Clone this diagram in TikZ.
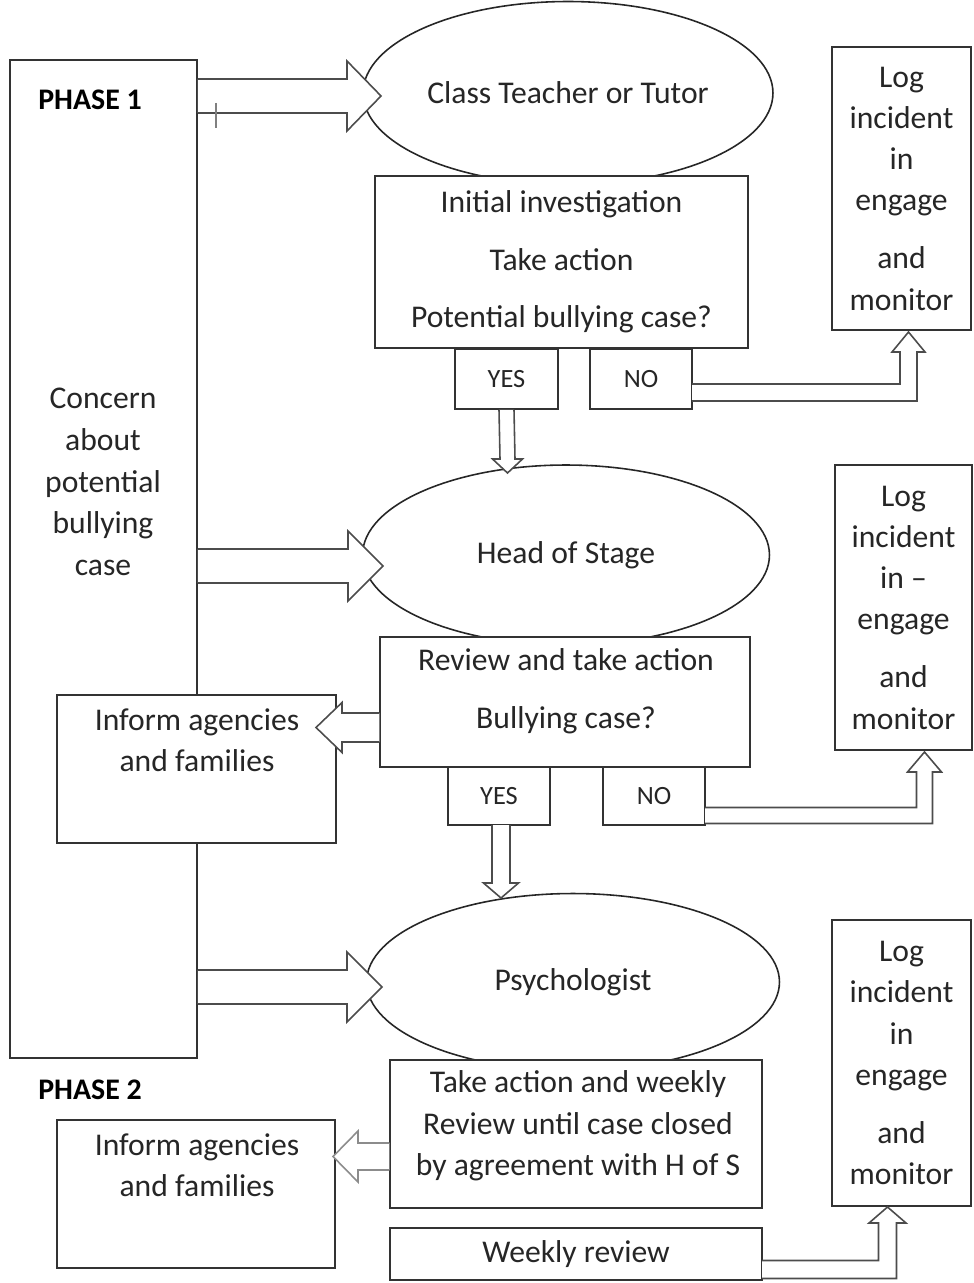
\documentclass[tikz,border=0pt]{standalone}
\usepackage{fontspec}
\setmainfont{Carlito}
\usetikzlibrary{shapes.geometric,calc}
% horizontal block arrow: start, tip, shaft half, head half, head-base offset
\newcommand\hblock[6][]{\draw[barrow,#1] ($(#2)+(0,-#4)$) -- ($(#3)+(#6,-#4)$) -- ($(#3)+(#6,-#5)$) -- (#3) -- ($(#3)+(#6,#5)$) -- ($(#3)+(#6,#4)$) -- ($(#2)+(0,#4)$);}
% vertical block arrow
\newcommand\vblock[6][]{\draw[barrow,#1] ($(#2)+(-#4,0)$) -- ($(#3)+(-#4,#6)$) -- ($(#3)+(-#5,#6)$) -- (#3) -- ($(#3)+(#5,#6)$) -- ($(#3)+(#4,#6)$) -- ($(#2)+(#4,0)$);}
% bent block arrow: right then up
\newcommand\bblock[6][]{\draw[barrow,#1] ($(#2)+(0,-#4)$) -- ($(#3 |- #2)+(-#4,-#4)$) -- ($(#3)+(-#4,#6)$) -- ($(#3)+(-#5,#6)$) -- (#3) -- ($(#3)+(#5,#6)$) -- ($(#3)+(#4,#6)$) -- ($(#3 |- #2)+(#4,#4)$) -- ($(#2)+(0,#4)$);}
\begin{document}
\begin{tikzpicture}[x=0.02cm,y=-0.02cm,
  line join=miter,
  font=\fontsize{18}{23.5}\selectfont,
  box/.style={rectangle, draw=black!80, line width=0.9pt, fill=white, inner sep=0pt, align=center, text=black!85},
  ell/.style={ellipse, draw=black!85, line width=0.9pt, fill=white, inner sep=0pt, align=center, text=black!85},
  barrow/.style={draw=black!70, line width=0.9pt, fill=white},
  txt/.style={align=center, inner sep=0pt, text=black!85},
  yn/.style={box, font=\fontsize{15}{18}\selectfont},
  phase/.style={txt, font=\bfseries\fontsize{17}{20}\selectfont, text=black}]
\useasboundingbox (0,0) rectangle (973,1283);

% left column
\node[box, minimum width=3.74cm, minimum height=19.96cm] (big) at (103.5,559) {};
\node[txt, font=\fontsize{18}{23.8}\selectfont] (concern) at (103,482) {Concern\\about\\potential\\bullying\\case};
\node[phase] (ph1) at (90,100) {PHASE 1};
\node[phase] (ph2) at (90,1090) {PHASE 2};

% ellipses
\node[ell, minimum width=8.2cm, minimum height=3.66cm] (cls) at (568,93) {Class Teacher or Tutor};
\node[ell, minimum width=8.14cm, minimum height=3.6cm] (hos) at (566,555) {Head of Stage};
\node[ell, minimum width=8.26cm, minimum height=3.54cm] (psy) at (573,982) {Psychologist};

% phase 1 boxes
\node[box, minimum width=7.46cm, minimum height=3.44cm, font=\fontsize{18}{32.6}\selectfont] (ini) at (561.5,262) {Initial investigation\\Take action\\Potential bullying case?};
\node[yn, minimum width=2.06cm, minimum height=1.2cm] (yes1) at (506.5,379) {YES};
\node[yn, minimum width=2.04cm, minimum height=1.2cm] (no1) at (641,379) {NO};
\node[box, minimum width=2.78cm, minimum height=5.66cm] (log1) at (901.5,188.5) {Log\\incident\\in\\engage\\[9.4pt]and\\monitor};

% head of stage boxes
\node[box, minimum width=7.4cm, minimum height=2.6cm] (rev) at (565,702) {};
\node[txt, font=\fontsize{18}{32.9}\selectfont] (revt) at (566,691) {Review and take action\\Bullying case?};
\node[box, minimum width=5.58cm, minimum height=2.96cm] (inf1) at (196.5,769) {};
\node[txt] (inf1t) at (197,740) {Inform agencies\\and families};
\node[yn, minimum width=2.04cm, minimum height=1.16cm] (yes2) at (499,796) {YES};
\node[yn, minimum width=2.04cm, minimum height=1.16cm] (no2) at (654,796) {NO};
\node[box, minimum width=2.74cm, minimum height=5.7cm] (log2) at (903.5,607.5) {Log\\incident\\in –\\engage\\[9.4pt]and\\monitor};

% psychologist boxes
\node[box, minimum width=7.44cm, minimum height=2.96cm] (take) at (576,1134) {};
\node[txt] (taket) at (578,1126) {Take action and weekly\\Review until case closed\\by agreement with H of S};
\node[box, minimum width=5.56cm, minimum height=2.96cm] (inf2) at (196,1194) {};
\node[txt] (inf2t) at (197,1165) {Inform agencies\\and families};
\node[box, minimum width=7.44cm, minimum height=1.04cm] (week) at (576,1254) {Weekly review};
\node[box, minimum width=2.78cm, minimum height=5.72cm] (log3) at (901.5,1063) {Log\\incident\\in\\engage\\[9.4pt]and\\monitor};

% block arrows from the concern column
\coordinate (a1t) at (381,96);  \coordinate (a1s) at (big.east |- a1t);
\coordinate (a2t) at (383,566); \coordinate (a2s) at (big.east |- a2t);
\coordinate (a3t) at (382,987); \coordinate (a3s) at (big.east |- a3t);
\hblock{a1s}{a1t}{17}{35}{-34}
\hblock{a2s}{a2t}{17}{35}{-35}
\hblock{a3s}{a3t}{17}{35}{-35}
\coordinate (tk1) at (216,103); \coordinate (tk2) at (216,128);
\draw[black!50, line width=0.8pt] (tk1) -- (tk2);

% YES arrows down
\coordinate (d1s) at (yes1.south); \coordinate (d1t) at (507.5,473);
\coordinate (d2s) at (501,825);   \coordinate (d2t) at (501,898);
\vblock{d1s}{d1t}{7.5}{15}{-14}
\vblock{d2s}{d2t}{9}{17.5}{-15}

% arrows to inform boxes
\coordinate (l1t) at (316,727.5); \coordinate (l1s) at (rev.west |- l1t);
\coordinate (l2t) at (333,1156.5); \coordinate (l2s) at (take.west |- l2t);
\hblock{l1s}{l1t}{14.5}{25}{26}
\hblock[draw=black!45]{l2s}{l2t}{13.5}{25.5}{25}

% NO / weekly arrows to log boxes
\coordinate (b1s) at (692,392.5); \coordinate (b1t) at (908.5,332);
\coordinate (b2s) at (705,815.5); \coordinate (b2t) at (924.5,752);
\coordinate (b3s) at (762,1269.5); \coordinate (b3t) at (887.5,1207);
\bblock{b1s}{b1t}{8.5}{16.5}{20}
\bblock{b2s}{b2t}{8}{17}{20}
\bblock{b3s}{b3t}{9}{18.5}{16}
\end{tikzpicture}
\end{document}
